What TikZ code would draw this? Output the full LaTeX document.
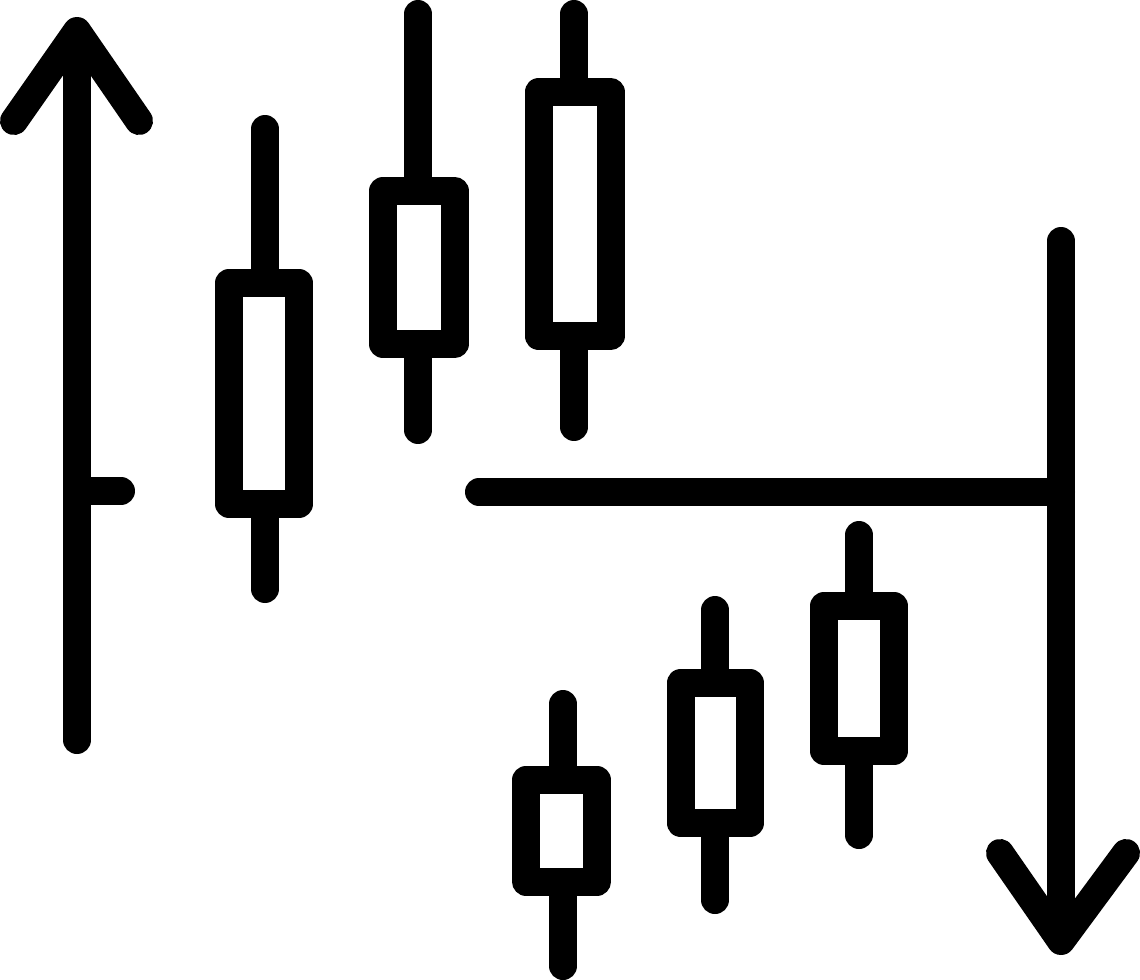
\documentclass[tikz,border=0pt]{standalone}
\usepackage{xcolor}
\usepackage{tikz}
\definecolor{ink}{HTML}{000000}
\definecolor{bg}{HTML}{FFFFFF}
\tikzset{
  base/.style={draw=ink, line width=0.56cm, line cap=round, line join=round},
  body/.style={draw=ink, fill=bg, line width=0.56cm, line join=round},
}
\begin{document}
\begin{tikzpicture}[x=0.02cm,y=-0.02cm]
  \useasboundingbox (0,0) rectangle (1140,980);

  % rising arrow
  \draw[base] (77,740) -- (77,50);
  \draw[base] (14,121) -- (77,31) -- (139,121);
  \draw[base] (77,491) -- (121,491);

  % falling arrow
  \draw[base] (1061,241) -- (1061,920);
  \draw[base] (1000,853) -- (1061,941) -- (1126,853);
  \draw[base] (479,492) -- (1061,492);

  % upper candles
  \draw[base] (265,129) -- (265,589);
  \draw[body] (229,283) rectangle (299,504);

  \draw[base] (418,14) -- (418,430);
  \draw[body] (383,191) rectangle (454.5,344);

  \draw[base] (574,14) -- (574,427);
  \draw[body] (538.5,92) rectangle (610.5,336);

  % lower candles
  \draw[base] (859,535) -- (859,835);
  \draw[body] (824,606) rectangle (894,751);

  \draw[base] (715,610) -- (715,900);
  \draw[body] (680.5,683) rectangle (750,823);

  \draw[base] (563,704) -- (563,966);
  \draw[body] (526,780) rectangle (597,881.5);
\end{tikzpicture}
\end{document}
